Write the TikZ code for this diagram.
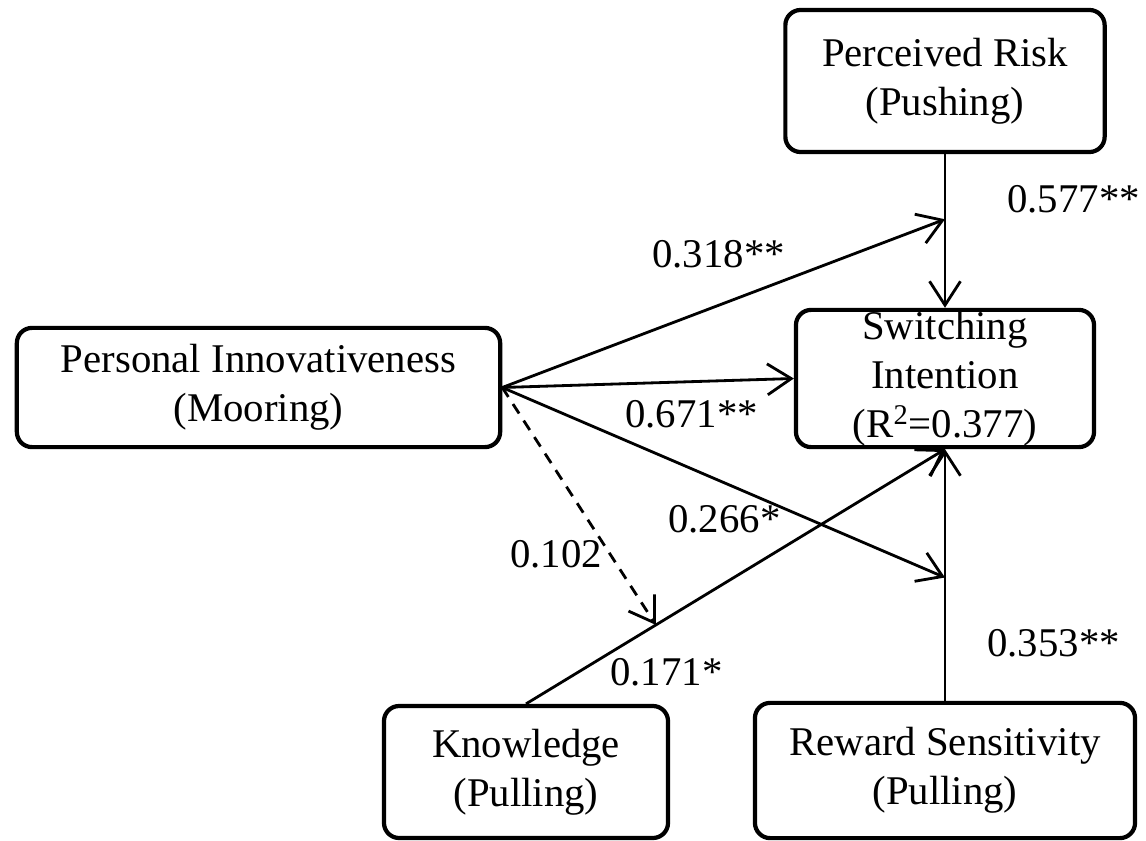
\documentclass[tikz,border=0pt]{standalone}
\usepackage{fontspec}
\setmainfont{Liberation Serif}
\usetikzlibrary{calc,arrows.meta}

\begin{document}
\begin{tikzpicture}[x=0.025cm,y=-0.025cm,font=\fontsize{29}{35}\selectfont,
  box/.style={draw, line width=3pt, rounded corners=0.38cm, align=center, inner sep=0pt},
  freccia/.style={line width=2pt, -{Straight Barb[length=17pt,width=22pt]}},
  coeff/.style={anchor=base west, inner sep=0pt}]

\useasboundingbox (0,0) rectangle (1146,841);

\node[box, minimum width=7.98cm, minimum height=3.55cm] (pr) at (945,81) {Perceived Risk\\(Pushing)};
\node[box, minimum width=12.08cm, minimum height=2.98cm] (pi) at (258.5,387.5) {Personal Innovativeness\\(Mooring)};
\node[box, minimum width=7.45cm, minimum height=3.43cm] (si) at (945,378.5) {Switching\\Intention\\(R\textsuperscript{2}=0.377)};
\node[box, minimum width=7.1cm, minimum height=3.3cm] (kn) at (526,772) {Knowledge\\(Pulling)};
\node[box, minimum width=9.5cm, minimum height=3.38cm] (rs) at (945,770.5) {Reward Sensitivity\\(Pulling)};

\coordinate (mpr) at ($(pr.south)!0.424!(si.north)$);
\coordinate (mrs) at ($(si.south)!0.51!(rs.north)$);
\coordinate (mkn) at ($(kn.north)!0.31!(si.south)$);

\draw[freccia] (pr.south) -- (si.north);
\draw[freccia] (pi.east) -- (mpr);
\draw[freccia] (pi.east) -- (si.west);
\draw[freccia] (pi.east) -- (mrs);
\draw[freccia, dash pattern=on 8pt off 6pt] (pi.east) -- (mkn);
\draw[freccia] (kn.north) -- (si.south);
\draw[freccia] (rs.north) -- (si.south);

\node[coeff] (l318) at (652,267) {0.318**};
\node[coeff] (l577) at (1007,212) {0.577**};
\node[coeff] (l671) at (625,427) {0.671**};
\node[coeff] (l266) at (668,532) {0.266*};
\node[coeff] (l102) at (510,567) {0.102};
\node[coeff] (l171) at (610,685) {0.171*};
\node[coeff] (l353) at (987,656) {0.353**};

\end{tikzpicture}
\end{document}
